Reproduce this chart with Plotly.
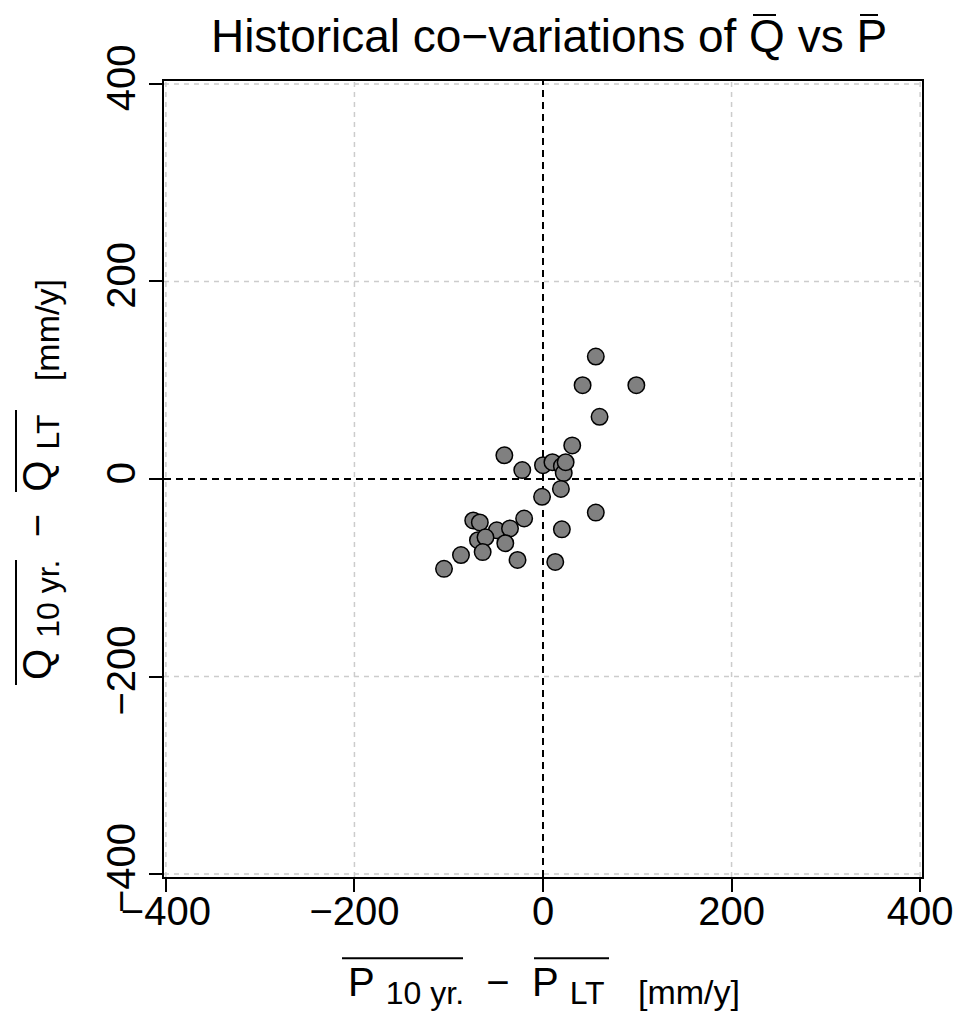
import plotly.graph_objects as go

# data: (P10yr - PLT, Q10yr - QLT) in mm/y
dP = [56, 42, 99, 60, 31, -41, -22, 0, 10, 20, 22, 24, 19, -1, 56, -20, -74, -67,
      -49, -35, 20, -69, -61, -40, -64, -87, -27, 13, -105]
dQ = [124, 95, 95, 63, 34, 24, 9, 14, 17, 13, 6, 17, -10, -18, -34, -40, -42, -44,
      -52, -50, -51, -62, -59, -65, -74, -77, -82, -84, -91]

tick_vals = [-400, -200, 0, 200, 400]
tick_text = ["\u2212400", "\u2212200", "0", "200", "400"]
x_range = [-402, 402]
y_range = [-403, 403]

FONT = "Liberation Sans, Arial, sans-serif"
NB = "\u00a0"

# layout geometry (pixels)
W, H = 959, 1013
ML, MR, MT, MB = 164, 37, 81, 136
PW, PH = W - ML - MR, H - MT - MB


def px_x(px):
    return (px - ML) / PW


def px_y(py):
    return (H - MB - py) / PH


def sub(txt, size):
    return '<sub><span style="font-size:%dpx">%s</span></sub>' % (size, txt)


def axis_label(sym):
    return (sym + NB + sub("10 yr.", 32) + NB * 2 + "\u2212" + NB * 2
            + sym + NB + sub("LT", 32) + NB * 3 + sub("[mm/y]", 34))


fig = go.Figure()
fig.add_trace(go.Scatter(
    x=dP, y=dQ, mode="markers",
    marker=dict(size=16.5, color="#808080", line=dict(color="black", width=1.5)),
    showlegend=False, cliponaxis=False,
))

# light dashed grid at the non-zero ticks, black dashed lines at zero
grid = dict(color="#cccccc", width=1.5, dash="5px,5px")
zero = dict(color="black", width=2, dash="7px,5px")
for v in tick_vals:
    if v == 0:
        continue
    fig.add_shape(type="line", xref="x", yref="paper", x0=v, x1=v, y0=0, y1=1,
                  line=grid, layer="below")
    fig.add_shape(type="line", xref="paper", yref="y", x0=0, x1=1, y0=v, y1=v,
                  line=grid, layer="below")
fig.add_shape(type="line", xref="x", yref="paper", x0=0, x1=0, y0=0, y1=1,
              line=zero, layer="below")
fig.add_shape(type="line", xref="paper", yref="y", x0=0, x1=1, y0=0, y1=0,
              line=zero, layer="below")

# overlines of the title letters and of the axis titles
overline = dict(color="black", width=2)
for a, b in [(753, 776), (860, 878)]:
    fig.add_shape(type="line", xref="paper", yref="paper",
                  x0=px_x(a), x1=px_x(b), y0=px_y(15), y1=px_y(15), line=overline)
for a, b in [(342, 463), (534, 609)]:
    fig.add_shape(type="line", xref="paper", yref="paper",
                  x0=px_x(a), x1=px_x(b), y0=px_y(958.3), y1=px_y(958.3), line=overline)
for a, b in [(560, 685), (410, 492)]:
    fig.add_shape(type="line", xref="paper", yref="paper",
                  x0=px_x(16), x1=px_x(16), y0=px_y(a), y1=px_y(b), line=overline)

# axis titles
fig.add_annotation(text=axis_label("P"), xref="paper", yref="paper", x=px_x(544), y=px_y(985),
                   xanchor="center", yanchor="middle", showarrow=False,
                   font=dict(size=40, color="black", family=FONT))
fig.add_annotation(text=axis_label("Q"), xref="paper", yref="paper", x=px_x(40), y=px_y(480),
                   xanchor="center", yanchor="middle", showarrow=False, textangle=-90,
                   font=dict(size=40, color="black", family=FONT))

axis_common = dict(
    tickvals=tick_vals, ticktext=tick_text, showgrid=False,
    zeroline=False, showline=True, mirror=True, linecolor="black", linewidth=2,
    ticks="outside", ticklen=13, tickwidth=1.5, tickcolor="black",
    tickfont=dict(size=40, color="black", family=FONT), automargin=False,
)

fig.update_layout(
    width=W, height=H,
    margin=dict(l=ML, r=MR, t=MT, b=MB),
    paper_bgcolor="white", plot_bgcolor="white",
    font=dict(family=FONT, color="black"),
    title=dict(
        text="Historical co\u2212variations of Q vs P",
        x=0.5725, xanchor="center", y=0.965, yanchor="middle",
        font=dict(size=46, color="black", family=FONT),
    ),
    xaxis=dict(**axis_common, range=x_range, ticklabelstandoff=-15),
    yaxis=dict(**axis_common, range=y_range, tickangle=-90, ticklabelstandoff=-2),
)

fig.write_html("out.html", config={"displayModeBar": False},
               post_script="document.body.style.margin='0px';")
